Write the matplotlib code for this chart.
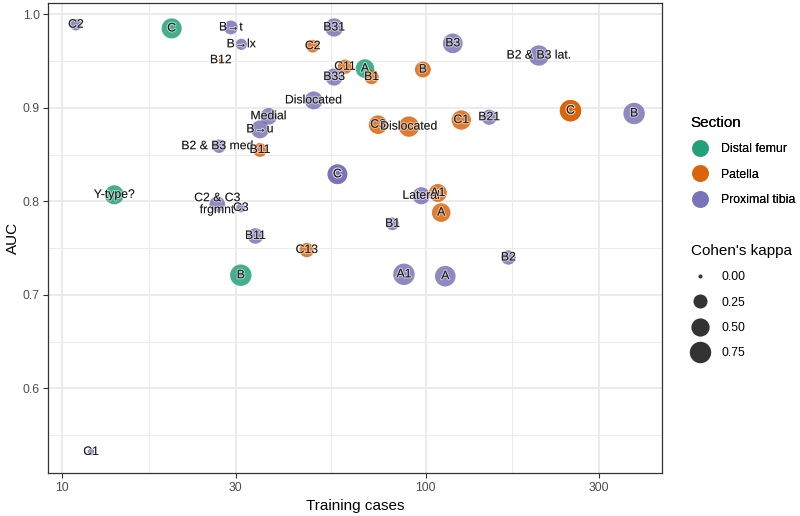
import numpy as np
import matplotlib
matplotlib.use('Agg')
import matplotlib.pyplot as plt
import matplotlib.patheffects as pe
from matplotlib.lines import Line2D
from matplotlib.ticker import FixedLocator, NullFormatter

plt.rcParams['font.family'] = ['Liberation Sans', 'DejaVu Sans']

# Data (the two darker "C" dots are two overlapping results)
sections = ['Proximal tibia', 'Distal femur', 'Proximal tibia', 'Proximal tibia', 'Patella',
            'Proximal tibia', 'Proximal tibia', 'Proximal tibia', 'Patella', 'Proximal tibia',
            'Patella', 'Patella', 'Distal femur', 'Patella', 'Proximal tibia',
            'Patella', 'Proximal tibia', 'Proximal tibia', 'Patella', 'Patella',
            'Patella', 'Proximal tibia', 'Proximal tibia', 'Patella', 'Proximal tibia',
            'Proximal tibia', 'Distal femur', 'Proximal tibia', 'Proximal tibia', 'Proximal tibia',
            'Distal femur', 'Proximal tibia', 'Patella', 'Patella', 'Proximal tibia',
            'Patella', 'Proximal tibia', 'Proximal tibia', 'Proximal tibia', 'Proximal tibia',
            'Patella', 'Proximal tibia']
labels = ['C2', 'C', 'B\u2192t', 'B\u2192lx', 'B12',
          'Medial', 'B\u2192u', 'B2 & B3 med.', 'B11', 'B31',
          'C2', 'C11', 'A', 'B1', 'B33',
          'B', 'B3', 'Dislocated', 'C3', 'Dislocated',
          'C1', 'C', 'B2 & B3 lat.', 'C', 'B',
          'B21', 'Y-type?', 'C2 & C3\nfrgmnt', 'C3', 'B11',
          'B', 'Lateral', 'A1', 'A', 'B1',
          'C13', 'B2', 'A1', 'A', 'C1',
          'C', 'C']
training_cases = [10.9, 20.0, 29.1, 31.1, 27.3,
                  37.0, 35.0, 27.0, 35.0, 56.0,
                  48.9, 60.0, 68.1, 71.0, 56.0,
                  98.3, 118.8, 49.2, 74.0, 90.0,
                  125.4, 57.2, 205.0, 250.6, 375.0,
                  149.6, 13.9, 26.7, 31.0, 34.0,
                  31.0, 97.3, 108.1, 110.4, 81.1,
                  47.1, 169.0, 87.2, 113.3, 12.0,
                  250.6, 57.2]
auc = [0.989, 0.985, 0.986, 0.968, 0.951,
       0.891, 0.877, 0.859, 0.855, 0.986,
       0.966, 0.944, 0.942, 0.933, 0.933,
       0.941, 0.969, 0.908, 0.882, 0.880,
       0.887, 0.829, 0.956, 0.897, 0.894,
       0.890, 0.807, 0.797, 0.793, 0.763,
       0.721, 0.806, 0.809, 0.788, 0.776,
       0.748, 0.740, 0.722, 0.720, 0.532,
       0.897, 0.829]
kappa = [0.14, 0.64, 0.24, 0.13, 0.00,
         0.39, 0.48, 0.22, 0.24, 0.50,
         0.19, 0.27, 0.53, 0.27, 0.43,
         0.35, 0.61, 0.48, 0.53, 0.66,
         0.58, 0.61, 0.66, 0.75, 0.75,
         0.31, 0.56, 0.33, 0.06, 0.33,
         0.75, 0.43, 0.48, 0.53, 0.19,
         0.27, 0.27, 0.75, 0.68, 0.02,
         0.75, 0.61]

section_names = ['Distal femur', 'Patella', 'Proximal tibia']
section_colors = ['#1B9E77', '#D95F02', '#7570B3']
kappa_breaks = [0.00, 0.25, 0.50, 0.75]


def kappa_diam(k):
    # area-style size scale, returns marker diameter in points
    k = np.clip(np.asarray(k, dtype=float), 0, None)
    return (4.0 + 18.0 * np.sqrt(k / 0.8)) * 0.72


color_of = dict(zip(section_names, section_colors))
cols = [color_of[s] for s in sections]

fig = plt.figure(figsize=(8, 5.16), dpi=100)
ax = fig.add_axes([48 / 800, 1 - 473.3 / 516, (662 - 48) / 800, (473.3 - 3.3) / 516])

ax.scatter(training_cases, auc, s=kappa_diam(kappa) ** 2, c=cols, alpha=0.82,
           linewidths=0, zorder=3)

halo = [pe.withStroke(linewidth=1.6, foreground=(1, 1, 1, 0.5))]
for x, y, lab in zip(training_cases, auc, labels):
    ax.text(x, y, lab, ha='center', va='center', fontsize=8.8, color='#1a1a1a',
            linespacing=1.0, zorder=4, path_effects=halo)

# scales (ggplot-like 5% expansion)
ax.set_xscale('log')
lx = np.log10(training_cases)
pad = 0.05 * (lx.max() - lx.min())
ax.set_xlim(10 ** (lx.min() - pad), 10 ** (lx.max() + pad))
pad_y = 0.05 * (max(auc) - min(auc))
ax.set_ylim(min(auc) - pad_y, max(auc) + pad_y)

xmaj = [10, 30, 100, 300]
ax.xaxis.set_major_locator(FixedLocator(xmaj))
ax.set_xticklabels([str(v) for v in xmaj])
ax.xaxis.set_minor_locator(FixedLocator([np.sqrt(a * b) for a, b in zip(xmaj[:-1], xmaj[1:])]))
ax.xaxis.set_minor_formatter(NullFormatter())
ymaj = [0.6, 0.7, 0.8, 0.9, 1.0]
ax.yaxis.set_major_locator(FixedLocator(ymaj))
ax.set_yticklabels(['%.1f' % v for v in ymaj])
ax.yaxis.set_minor_locator(FixedLocator([0.55, 0.65, 0.75, 0.85, 0.95]))

ax.grid(which='major', color='#EBEBEB', linewidth=1.4, zorder=0)
ax.grid(which='minor', color='#EBEBEB', linewidth=0.7, zorder=0)
ax.set_axisbelow(True)
ax.tick_params(which='major', length=3.5, width=0.8, color='#333333',
               labelsize=8.8, labelcolor='#4D4D4D', pad=2.5)
ax.tick_params(which='minor', length=0)
for sp in ax.spines.values():
    sp.set_color('#333333')
    sp.set_linewidth(0.9)

ax.set_xlabel('Training cases', fontsize=11, color='black', labelpad=4)
ax.set_ylabel('AUC', fontsize=11, color='black', labelpad=2)

# legends
sec_handles = [Line2D([], [], marker='o', linestyle='', markersize=kappa_diam(0.4),
                      markerfacecolor=c, markeredgewidth=0, alpha=0.82)
               for c in section_colors]
leg1 = fig.legend(sec_handles, section_names, title='Section', loc='upper left',
                  bbox_to_anchor=(687 / 800, 1 - 112 / 516), frameon=False,
                  fontsize=8.8, title_fontsize=11, handlelength=1.6,
                  handletextpad=0.9, labelspacing=1.1, alignment='left',
                  borderaxespad=0, borderpad=0.3)

kap_handles = [Line2D([], [], marker='o', linestyle='', markersize=kappa_diam(k),
                      markerfacecolor='#333333', markeredgewidth=0)
               for k in kappa_breaks]
leg2 = fig.legend(kap_handles, ['%.2f' % k for k in kappa_breaks], title="Cohen's kappa",
                  loc='upper left', bbox_to_anchor=(687 / 800, 1 - 240 / 516),
                  frameon=False, fontsize=8.8, title_fontsize=11, handlelength=1.6,
                  handletextpad=0.9, labelspacing=1.1, alignment='left',
                  borderaxespad=0, borderpad=0.3)
fig.add_artist(leg1)

fig.savefig('out.png', dpi=100)
